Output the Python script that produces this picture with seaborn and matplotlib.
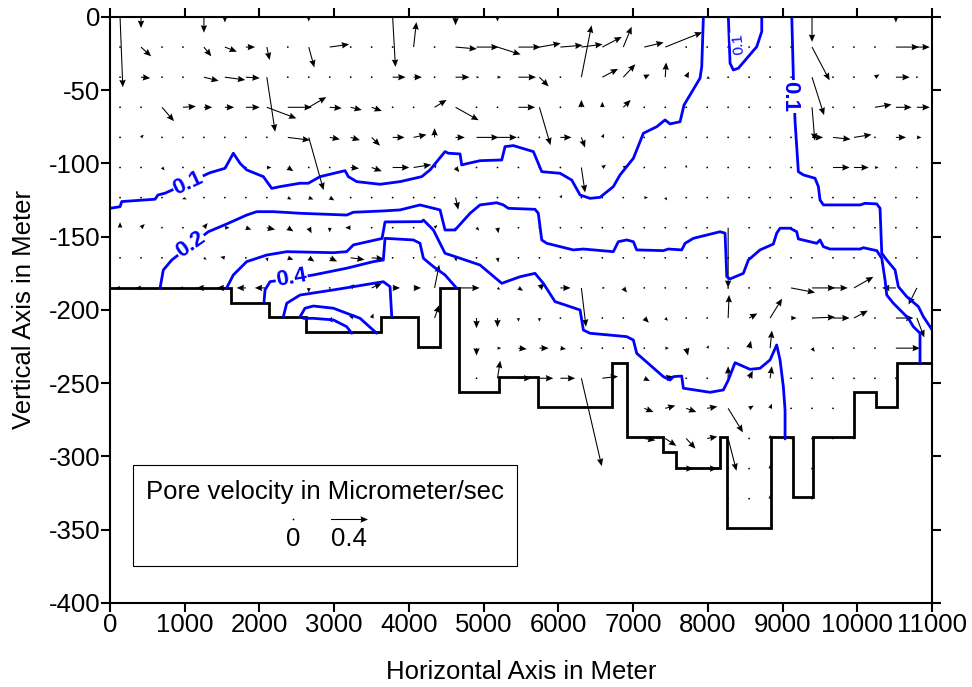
import numpy as np
import matplotlib
matplotlib.use("Agg")
import matplotlib.pyplot as plt
import seaborn as sns
from matplotlib.patches import Rectangle

# ---- bottom boundary of the domain (step outline) ----
bottom_edges = [0, 1620, 2130, 2620, 3630, 4120, 4420, 4670, 5200, 5730, 6720, 6920,
                7400, 7580, 8160, 8250, 8850, 9140, 9410, 9960, 10250, 10530, 11000]
bottom_depth = [-185, -195, -205, -215, -205, -225, -185, -256, -246, -266, -236,
                -287, -297, -308, -287, -349, -287, -328, -287, -256, -266, -236]

# ---- contour lines (pore velocity, micrometer/sec) ----
c01_left_x = [0, 134, 157, 602, 642, 736, 1338, 1539, 1650, 1740, 1829, 2052, 2164, 2275,
              2543, 2654, 2810, 3145, 3189, 3301, 3613, 3881, 4171, 4282, 4483, 4527, 4684,
              4706, 4795, 4951, 5242, 5286, 5397, 5665, 5777, 6022, 6178, 6290, 6423, 6557,
              6735, 6825, 7003, 7137, 7316, 7427, 7494, 7628, 7681, 7895, 7918, 7940]
c01_left_y = [-130.6, -129.5, -126, -124.4, -121.5, -120.3, -106.3, -103.3, -93, -99.9,
              -104.4, -109, -117, -115.8, -113.5, -113.5, -109, -104.9, -109, -112.4, -114.2,
              -112.4, -109, -104.4, -91.9, -93, -93.5, -101, -99.9, -98.1, -97.6, -88.5,
              -87.8, -91.9, -105.6, -106.7, -111.3, -121.5, -123.8, -123.1, -115.8, -107.8,
              -96.5, -79.4, -74.9, -70.3, -73, -71.5, -60.1, -41.8, -33.9, 0]
c01_top_x = [8274, 8297, 8341, 8408, 8654, 8721, 8721]
c01_top_y = [0, -31.6, -36.2, -35, -20.3, -10, 0]
c01_right_x = [9123, 9144, 9167, 9211, 9278, 9434, 9479, 9501, 9546, 10037, 10103, 10260,
               10304, 10327, 10394, 10505, 10549, 10661, 10817, 10884, 10973, 11000]
c01_right_y = [0, -40.8, -71.5, -105.6, -107.8, -110.1, -115.8, -124.9, -128.3, -128.3,
               -127.2, -127.6, -130.6, -161.3, -165.9, -172.7, -184.1, -190.9, -197.7,
               -204.6, -211.4, -213.6]
c02_x = [669, 713, 826, 1315, 1562, 1829, 1963, 2185, 2543, 3167, 3256, 3657, 3881, 4148,
         4416, 4483, 4617, 4818, 4951, 5175, 5263, 5330, 5687, 5731, 5777, 5844, 6200,
         6334, 6735, 6802, 6914, 7003, 7048, 7404, 7471, 7650, 7695, 7806, 8163, 8230,
         8253, 8297, 8475, 8542, 8698, 8876, 8921, 8966, 9100, 9189, 9211, 9457, 9501,
         9546, 9635, 10037, 10081, 10260, 10327, 10371, 10394, 10482, 10572, 10683,
         10750, 10839, 10839]
c02_y = [-185.2, -172.7, -165.9, -146.6, -141.3, -135.2, -132.9, -132.9, -134, -135.2,
         -133.3, -132.4, -131.7, -128.3, -131.7, -145.4, -145.4, -134, -128.3, -126.8,
         -128.3, -130.6, -131.3, -134, -152.2, -154.5, -159, -158.4, -160.2, -153.4,
         -152.2, -153.4, -159, -159.5, -158.4, -159, -154.5, -151.1, -146.6, -147.6,
         -177.3, -178.8, -175, -165.9, -159, -155, -147.6, -144.2, -144.2, -146.6, -151.5,
         -154.5, -152.2, -156.8, -158.4, -158.4, -157.5, -159.5, -164.7, -179.5, -189.8,
         -195.4, -200, -205.7, -211.4, -215.9, -236.4]
c03_x = [1562, 1650, 1829, 2097, 2365, 2989, 3167, 3256, 3640, 3680, 4171, 4193, 4327,
         4483, 4684, 4951, 5242, 5487, 5687, 5798, 5955, 6290, 6334, 6423, 6914, 7003,
         7048, 7404, 7494, 7539, 7650, 7672, 8029, 8207, 8274, 8364, 8564, 8698, 8832,
         8921, 8966, 9010, 9033, 9033]
c03_y = [-184.8, -176.1, -167, -162.5, -160.2, -160.9, -160.2, -155.6, -151.2, -139.9,
         -139.7, -138.6, -145.4, -161.3, -164.7, -169.3, -181.8, -177.3, -175, -181.8,
         -194.3, -200, -213.7, -215.9, -218.2, -220.5, -229.6, -245.5, -247.8, -245.5,
         -245.1, -253.4, -256.2, -254.6, -247.8, -236, -240.5, -239.8, -234.1, -223.9,
         -234.1, -252.4, -268.3, -288]
c04_x = [2061, 2074, 2141, 2431, 2721, 3167, 3524, 3657, 3680, 4059, 4148, 4193, 4327,
         4483, 4639]
c04_y = [-194.3, -186.3, -180.7, -178.4, -176.1, -171.5, -167, -165.9, -151.1, -152.2,
         -154.5, -164.7, -170.4, -176.1, -185.2]
c05_x = [2319, 2365, 2543, 2989, 3256, 3657, 3747, 3770]
c05_y = [-204.6, -195.4, -189.8, -186.3, -184.1, -180.7, -184.1, -204.6]
c06_x = [2543, 2609, 2721, 2989, 3346, 3569]
c06_y = [-204.6, -198.8, -197.3, -198.8, -205.7, -215.9]
c07_x = [2587, 2721, 2989, 3167, 3234]
c07_y = [-205.7, -205.7, -206.8, -211.4, -215.9]

# contour labels: text, x, y, rotation, size
label_text = ["0.1", "0.2", "0.4", "0.1", "0.1"]
label_x = [1048, 1080, 2431, 9100, 8408]
label_y = [-113.5, -155.6, -178.4, -54.4, -18]
label_rot = [25, 35, 10, -90, 95]
label_size = [16, 16, 16, 16, 11]

# ---- velocity vectors on the 39 x 18 grid (only non-negligible ones listed) ----
arrow_row = [0, 0, 0, 0, 0, 0, 0, 0, 0, 0,
             1, 1, 1, 1, 1, 1, 1, 1, 1, 1, 1, 1, 1, 1, 1, 1, 1, 1, 1, 1, 1, 1,
             2, 2, 2, 2, 2, 2, 2, 2, 2, 2, 2, 2, 2, 2, 2, 2, 2, 2, 2, 2, 2, 2, 2,
             3, 3, 3, 3, 3, 3, 3, 3, 3, 3, 3, 3, 3, 3, 3, 3, 3, 3, 3, 3, 3, 3,
             4, 4, 4, 4, 4, 4, 4, 4, 4, 4, 4, 4, 4, 4, 4, 4, 4, 4, 4, 4,
             5, 5, 5, 5, 5, 5, 5, 5, 5, 5, 5, 5, 5, 5, 5, 5,
             6, 6, 6, 6, 6, 6, 6, 6,
             7, 7, 7, 7, 7, 7, 7, 7, 7, 7, 7, 7, 7, 7, 7,
             8, 8, 8, 8, 8, 8, 8, 8, 8, 8, 8,
             9, 9, 9, 9, 9, 9, 9, 9, 9, 9, 9, 9, 9, 9, 9, 9, 9, 9, 9, 9, 9, 9, 9, 9, 9,
             9, 9, 9,
             10, 10, 10, 10, 10, 10, 10, 10, 10, 10, 10, 10, 10, 10, 10, 10, 10, 10, 10,
             11, 11, 11, 11, 11, 11, 11, 11, 11, 11, 11, 11,
             12, 12, 12, 12, 12, 12, 12, 12, 12, 12, 12,
             13, 13, 13, 13, 13, 13, 13,
             14, 14, 14, 14, 14, 14,
             15, 15, 15, 16]
arrow_col = [0, 1, 4, 5, 9, 13, 16, 18, 33, 37,
             1, 4, 5, 6, 7, 9, 10, 14, 16, 17, 18, 19, 20, 21, 22, 23, 24, 25, 26, 33, 37, 38,
             1, 4, 5, 6, 7, 13, 14, 16, 17, 18, 19, 20, 22, 23, 24, 25, 26, 27, 28, 33, 36, 37, 38,
             2, 3, 4, 5, 6, 7, 8, 9, 10, 11, 12, 15, 16, 19, 20, 22, 23, 24, 33, 36, 37, 38,
             1, 8, 9, 10, 11, 12, 13, 14, 15, 16, 17, 18, 21, 22, 23, 33, 34, 35, 37, 38,
             2, 7, 8, 11, 12, 13, 14, 15, 16, 22, 23, 24, 27, 34, 35, 36,
             3, 8, 9, 10, 16, 21, 25, 26,
             0, 1, 4, 5, 6, 7, 8, 9, 10, 11, 15, 16, 17, 18, 29,
             4, 5, 7, 8, 9, 10, 11, 12, 15, 16, 18,
             0, 1, 2, 3, 4, 5, 6, 7, 9, 11, 12, 13, 14, 15, 16, 18, 19, 20, 21, 22, 23, 24, 32,
             33, 34, 35, 37, 38,
             10, 11, 12, 15, 17, 18, 19, 20, 25, 26, 29, 30, 31, 32, 33, 34, 35, 37, 38,
             17, 18, 19, 20, 21, 26, 27, 28, 30, 31, 33, 37,
             18, 19, 20, 21, 22, 23, 25, 26, 29, 30, 31,
             25, 26, 27, 28, 29, 30, 31,
             25, 26, 27, 28, 29, 31,
             27, 28, 31, 31]
arrow_u = [0.03, 0, 0, 0, 0, 0.03, 0, 0, 0, 0,
           0.11, 0.08, 0.13, 0.10, 0.03, 0.06, 0.21, 0.03, 0.23, 0.24, 0.25, 0.24, 0.23, 0.24,
           0.23, 0.21, 0.09, 0.21, 0.40, 0.19, 0.25, 0.14,
           0.10, 0.16, 0.22, 0.15, 0.09, 0.14, 0.09, 0.15, 0.03, 0.04, 0.19, 0.10, 0.11, 0.17,
           0.13, 0.06, 0.01, 0.03, 0.03, 0.13, 0.05, 0.15, 0.02,
           0.13, 0.14, 0.09, 0.10, 0.15, 0.32, 0.26, 0.19, 0.13, 0.12, 0.11, 0.13, 0.25, 0.18,
           0.12, 0, 0, 0.08, 0.03, 0.18, 0.17, 0.14,
           0.03, 0.24, 0.16, 0.11, 0.10, 0.09, 0.13, 0.14, 0, 0.10, 0.24, 0.21, 0.12, 0.04,
           0.02, 0.12, 0.19, 0.19, 0.11, 0.05,
           0.03, 0.05, 0.06, 0.09, 0.11, 0.18, 0.19, 0.02, 0.04, 0.04, 0.04, 0.03, 0, 0.18,
           0.16, 0.04,
           0.04, 0.04, 0.05, 0.05, 0.03, 0.02, 0.04, 0.02,
           0, 0.04, 0.04, 0.05, 0.06, 0.09, 0.06, 0.03, 0, -0.06, 0.03, 0, 0.03, 0.01, 0,
           0.03, -0.05, 0.01, 0.06, 0.06, 0.08, 0.15, 0.13, 0.01, 0.01, 0.01,
           -0.05, -0.06, -0.04, -0.04, -0.08, -0.09, -0.10, -0.13, 0, 0.04, 0.11, 0.08, 0.08,
           0.05, 0.26, 0.03, 0.05, 0.06, 0.11, 0.05, 0.03, 0.04, 0.26, 0.25, 0.16, 0.21,
           -0.15, -0.09,
           0.03, 0.04, 0.02, 0.05, 0, 0, 0, 0, 0.05, 0.03, 0.01, 0.09, 0.13, 0.06, 0.25,
           0.18, 0.15, 0.19, 0.08,
           0, 0.04, 0.09, 0.10, 0.06, 0.04, 0.02, 0.02, 0.02, 0.02, 0.03, 0.26,
           0.03, 0.14, 0.15, 0.16, 0.22, 0.17, 0.06, 0.09, 0, 0.04, 0.02,
           0.10, 0.11, 0.11, 0.11, 0.16, 0.05, 0.02,
           0.12, 0.12, 0.10, 0.11, 0.09, 0,
           0.08, 0.11, 0, 0]
arrow_v = [-0.76, -0.12, -0.17, -0.06, -0.05, -0.54, -0.09, -0.05, -0.27, -0.06,
           -0.10, -0.10, -0.05, 0, -0.14, -0.22, 0.03, 0.27, -0.02, 0, -0.08, 0, 0.04, 0.02,
           0.03, 0.11, 0.22, 0.05, 0.16, -0.36, 0, 0,
           -0.01, -0.04, -0.03, -0.01, -0.59, 0, 0, 0, 0, 0, 0, -0.10, 0.56, 0.09, 0.14,
           0.03, 0.16, 0.06, -0.02, -0.41, 0.03, 0, 0,
           -0.15, 0.01, 0, 0, 0, -0.12, 0, 0.11, -0.01, -0.03, -0.04, 0.08, -0.14, 0, -0.41,
           0.08, 0.06, 0.08, -0.36, 0.03, 0, 0,
           0.03, -0.03, -0.57, -0.02, -0.03, -0.09, 0, 0.03, 0.10, 0, 0, 0, 0, -0.11, 0.04,
           0, -0.02, 0.03, 0, 0,
           -0.03, 0, -0.04, -0.01, -0.04, 0, 0.03, 0.03, -0.05, -0.27, 0.03, 0.02, 0.03, 0,
           0, 0,
           -0.02, -0.02, -0.02, -0.03, -0.13, 0.03, 0, -0.03,
           0.06, 0.04, 0.05, 0, -0.02, -0.02, -0.04, -0.06, -0.05, 0, 0.03, -0.04, -0.03,
           -0.06, -0.65,
           -0.02, 0.01, -0.04, -0.02, -0.04, -0.04, -0.02, -0.01, 0.02, -0.04, -0.05,
           0, 0, 0, 0, 0, 0, 0, 0, -0.05, 0.04, 0.05, 0, 0, 0.25, 0, -0.02, -0.03, 0.05, 0,
           -0.42, 0, -0.05, -0.05, 0, 0, 0.12, 0, -0.18,
           -0.05, 0.04, 0.05, 0.14, -0.11, -0.10, -0.04, -0.04, -0.05, -0.03, 0.25, 0.05,
           0.21, 0, 0.01, 0, 0.08, 0, -0.21,
           -0.08, 0, -0.01, 0, -0.01, 0, -0.08, 0.03, 0.08, 0.19, -0.04, 0,
           0.19, 0, 0, 0, -0.95, 0.02, -0.03, 0.02, 0.13, 0.08, 0.13,
           -0.04, 0.03, -0.04, 0.02, -0.26, 0.03, 0.05,
           -0.02, -0.08, -0.11, 0.02, -0.35, 0.04,
           0, 0, 0.04, 0.04]

key_speed = 0.4

sns.set_style("ticks")
plt.rcParams["font.family"] = ["Liberation Sans", "DejaVu Sans"]
plt.rcParams["axes.unicode_minus"] = False
plt.rcParams["text.color"] = "black"
plt.rcParams["axes.labelcolor"] = "black"

fig = plt.figure(figsize=(9.72, 6.87), dpi=100)
ax = fig.add_axes([0.1132, 0.1223, 0.8457, 0.853])

# grid of the velocity field
gx = 134 + 280.6 * np.arange(39)
gy = -20.55 * np.arange(18)
U = np.zeros((len(gy), len(gx)))
V = np.zeros_like(U)
U[arrow_row, arrow_col] = arrow_u
V[arrow_row, arrow_col] = arrow_v
XX, YY = np.meshgrid(gx, gy)
floor = np.array(bottom_depth)[np.searchsorted(bottom_edges, gx, side="right") - 1]
inside = YY >= floor[None, :] - 0.8

blue = "#0000ff"
contours = [(c01_left_x, c01_left_y), (c01_top_x, c01_top_y), (c01_right_x, c01_right_y),
            (c02_x, c02_y), (c03_x, c03_y), (c04_x, c04_y), (c05_x, c05_y),
            (c06_x, c06_y), (c07_x, c07_y)]
for cx, cy in contours:
    sns.lineplot(x=cx, y=cy, sort=False, estimator=None, color=blue, lw=2, ax=ax)

ax.stairs(bottom_depth, bottom_edges, baseline=None, color="black", lw=2)

q = ax.quiver(XX[inside], YY[inside], U[inside], V[inside], color="black",
              scale=1.081, scale_units="inches", width=0.0013, headwidth=6,
              headlength=7, headaxislength=6.3, minlength=1.8, pivot="tail")

for t, lx, ly, rot, fs in zip(label_text, label_x, label_y, label_rot, label_size):
    ax.text(lx, ly, t, color=blue, fontsize=fs, fontweight="bold" if fs > 12 else "normal",
            rotation=rot, ha="center", va="center", rotation_mode="anchor",
            bbox=dict(facecolor="white", edgecolor="none", pad=0.5))

# legend box
ax.add_patch(Rectangle((0.028, 0.063), 0.467, 0.1725, transform=ax.transAxes,
                       facecolor="white", edgecolor="black", lw=0.8, zorder=5))
ax.text(0.2616, 0.19, "Pore velocity in Micrometer/sec", transform=ax.transAxes,
        ha="center", va="center", fontsize=18.5, color="black", zorder=6)
ax.quiverkey(q, 0.2226, 0.1433, 0, "0", labelpos="S", coordinates="axes",
             labelsep=0.08, labelcolor="black", fontproperties={"size": 18.5}, zorder=6)
ax.quiverkey(q, 0.2905, 0.1433, key_speed, f"{key_speed}", labelpos="S",
             coordinates="axes", labelsep=0.08, labelcolor="black",
             fontproperties={"size": 18.5}, zorder=6)

ax.set_xlim(0, 11000)
ax.set_ylim(-400, 0)
ax.set_xticks(np.arange(0, 11001, 1000))
ax.set_yticks(np.arange(-400, 1, 50))
ax.tick_params(direction="out", length=6.5, width=1.5, labelsize=18.5,
               top=True, right=True, colors="black")
ax.tick_params(axis="y", pad=0.5)
ax.tick_params(axis="x", pad=1)
for s in ax.spines.values():
    s.set_linewidth(1.5)
    s.set_color("black")
    s.set_visible(True)
ax.set_xlabel("Horizontal Axis in Meter", fontsize=18.5, labelpad=16)
ax.set_ylabel("Vertical Axis in Meter", fontsize=18.5, labelpad=9)

fig.savefig("out.png", dpi=100)
